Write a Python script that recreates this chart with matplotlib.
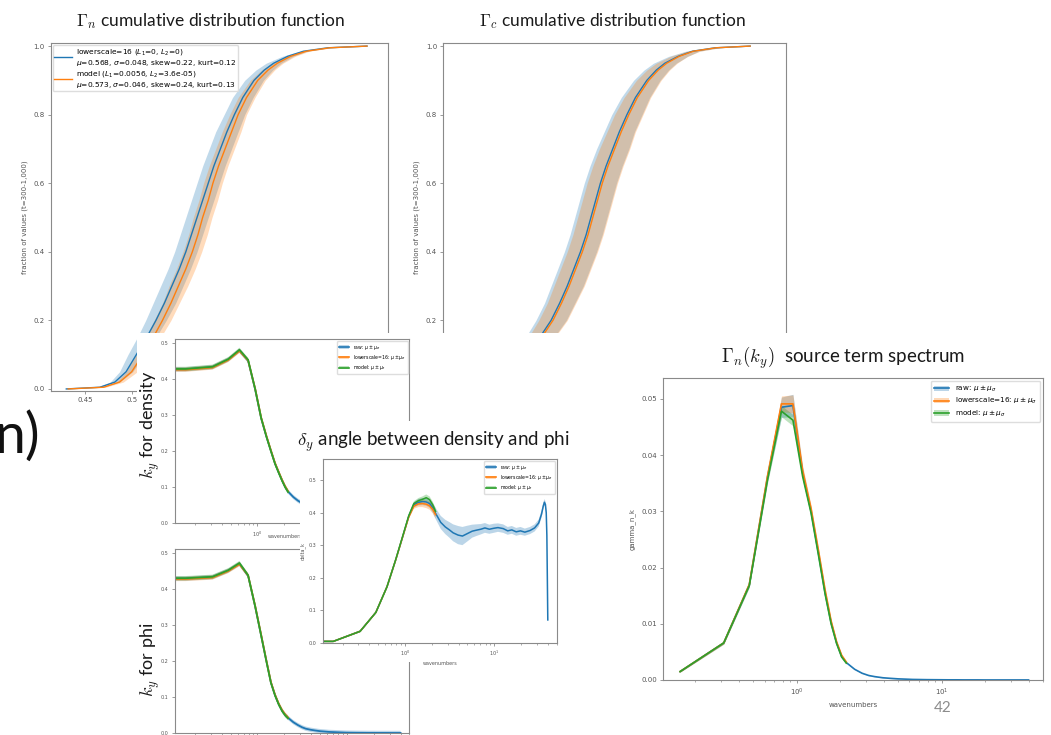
import numpy as np
import matplotlib
matplotlib.use("Agg")
import matplotlib.pyplot as plt
from matplotlib.patches import Rectangle, Patch
from matplotlib.lines import Line2D

# ---------------------------------------------------------------- data
# cumulative distributions: fraction of values and the quantile reached
cdf_frac = [0.0, 0.005, 0.02, 0.05, 0.1, 0.15, 0.2, 0.25, 0.3, 0.35, 0.4,
            0.45, 0.5, 0.55, 0.6, 0.65, 0.7, 0.75, 0.8, 0.85, 0.9, 0.93,
            0.95, 0.97, 0.985, 0.995, 1.0]
gn_lower_x = [0.430, 0.466, 0.482, 0.494, 0.505, 0.516, 0.526, 0.535, 0.543,
              0.551, 0.558, 0.564, 0.570, 0.576, 0.582, 0.588, 0.595, 0.602,
              0.610, 0.619, 0.631, 0.642, 0.652, 0.667, 0.684, 0.710, 0.752]
gn_model_x = [0.432, 0.470, 0.487, 0.500, 0.512, 0.523, 0.533, 0.542, 0.550,
              0.558, 0.565, 0.571, 0.576, 0.582, 0.587, 0.593, 0.600, 0.607,
              0.614, 0.623, 0.635, 0.646, 0.656, 0.670, 0.687, 0.712, 0.752]
gn_lower_sd = [0.0, 0.003, 0.005, 0.007, 0.009, 0.010, 0.011, 0.012, 0.012,
               0.012, 0.012, 0.012, 0.012, 0.012, 0.012, 0.012, 0.012, 0.012,
               0.011, 0.011, 0.010, 0.009, 0.008, 0.006, 0.004, 0.002, 0.0]
gn_model_sd = [0.0, 0.002, 0.004, 0.006, 0.007, 0.008, 0.009, 0.009, 0.010,
               0.010, 0.010, 0.010, 0.010, 0.010, 0.010, 0.010, 0.010, 0.010,
               0.009, 0.009, 0.008, 0.007, 0.006, 0.005, 0.003, 0.002, 0.0]
gc_lower_x = [0.425, 0.455, 0.474, 0.490, 0.503, 0.515, 0.527, 0.536, 0.544,
              0.551, 0.558, 0.564, 0.569, 0.574, 0.579, 0.585, 0.592, 0.599,
              0.607, 0.616, 0.628, 0.638, 0.647, 0.661, 0.676, 0.700, 0.737]
gc_model_x = [0.426, 0.457, 0.476, 0.492, 0.505, 0.517, 0.529, 0.538, 0.546,
              0.553, 0.560, 0.566, 0.571, 0.576, 0.581, 0.587, 0.594, 0.601,
              0.609, 0.618, 0.630, 0.640, 0.649, 0.662, 0.677, 0.701, 0.737]
gc_lower_sd = [0.0, 0.004, 0.008, 0.011, 0.013, 0.015, 0.016, 0.016, 0.017,
               0.017, 0.017, 0.017, 0.017, 0.017, 0.017, 0.017, 0.017, 0.016,
               0.016, 0.015, 0.014, 0.013, 0.012, 0.010, 0.007, 0.004, 0.0]
gc_model_sd = [0.0, 0.004, 0.007, 0.010, 0.012, 0.014, 0.015, 0.015, 0.016,
               0.016, 0.016, 0.016, 0.016, 0.016, 0.016, 0.016, 0.016, 0.015,
               0.015, 0.014, 0.013, 0.012, 0.011, 0.009, 0.007, 0.004, 0.0]

gn_labels = ["lowerscale=16 ($L_1$=0, $L_2$=0)\n"
             "$\\mu$=0.568, $\\sigma$=0.048, skew=0.22, kurt=0.12",
             "model ($L_1$=0.0056, $L_2$=3.6e-05)\n"
             "$\\mu$=0.573, $\\sigma$=0.046, skew=0.24, kurt=0.13"]

# spectral mode numbers, k = n * 2pi/40
k0 = 2 * np.pi / 40
modes_short = [0, 1, 2, 3, 4, 5, 6, 7, 8, 9, 10, 11, 12, 13, 14]
modes_raw = modes_short + [16, 18, 20, 22, 25, 28, 32, 36, 40, 45, 50, 56,
                           63, 70, 80, 90, 100, 112, 125, 140, 160, 180,
                           200, 215, 225, 232, 238, 243, 247, 250, 253]

# k_y for density
dens_raw = [0.425, 0.426, 0.432, 0.453, 0.478, 0.450, 0.370, 0.290, 0.240,
            0.200, 0.165, 0.140, 0.118, 0.100, 0.087, 0.072, 0.062, 0.055,
            0.049, 0.043, 0.038, 0.033, 0.029, 0.026, 0.023, 0.020, 0.018,
            0.016, 0.014, 0.012, 0.011, 0.010, 0.009, 0.008, 0.007, 0.006,
            0.006, 0.005, 0.005, 0.005, 0.004, 0.004, 0.004, 0.004, 0.004,
            0.004]
dens_lower = [0.424, 0.425, 0.431, 0.452, 0.477, 0.451, 0.372, 0.292, 0.242,
              0.201, 0.166, 0.141, 0.119, 0.101, 0.088]
dens_model = [0.426, 0.427, 0.433, 0.454, 0.480, 0.452, 0.371, 0.291, 0.240,
              0.199, 0.164, 0.139, 0.117, 0.099, 0.086]

# k_y for phi
phi_raw = [0.428, 0.428, 0.432, 0.450, 0.469, 0.436, 0.350, 0.270, 0.200,
           0.140, 0.105, 0.080, 0.062, 0.050, 0.042, 0.030, 0.022, 0.016,
           0.012, 0.009, 0.007, 0.005, 0.004, 0.003, 0.0025, 0.002, 0.0015,
           0.001, 0.0008, 0.0006, 0.0005, 0.0004, 0.0003, 0.0003, 0.0002,
           0.0002, 0.0002, 0.0001, 0.0001, 0.0001, 0.0001, 0.0001, 0.0001,
           0.0001, 0.0001, 0.0001]
phi_lower = [0.427, 0.427, 0.431, 0.449, 0.468, 0.437, 0.352, 0.272, 0.201,
             0.141, 0.106, 0.081, 0.063, 0.051, 0.043]
phi_model = [0.429, 0.429, 0.433, 0.451, 0.471, 0.437, 0.351, 0.270, 0.199,
             0.139, 0.104, 0.079, 0.061, 0.049, 0.041]

# delta_y, phase angle between density and phi
dy_raw = [0.000, 0.004, 0.035, 0.093, 0.172, 0.254, 0.326, 0.388, 0.424,
          0.432, 0.434, 0.433, 0.428, 0.415, 0.398, 0.370, 0.356, 0.347,
          0.338, 0.331, 0.328, 0.336, 0.343, 0.346, 0.349, 0.353, 0.349,
          0.352, 0.354, 0.351, 0.344, 0.347, 0.341, 0.344, 0.340, 0.345,
          0.353, 0.368, 0.395, 0.420, 0.432, 0.425, 0.400, 0.330, 0.200,
          0.070]
dy_raw_sd = [0.000, 0.002, 0.003, 0.004, 0.004, 0.004, 0.005, 0.006, 0.008,
             0.010, 0.011, 0.012, 0.013, 0.015, 0.017, 0.020, 0.022, 0.024,
             0.026, 0.028, 0.028, 0.024, 0.020, 0.018, 0.016, 0.015, 0.014,
             0.014, 0.013, 0.013, 0.012, 0.012, 0.012, 0.012, 0.011, 0.011,
             0.011, 0.011, 0.011, 0.010, 0.010, 0.010, 0.010, 0.008, 0.006,
             0.004]
dy_lower = [0.000, 0.004, 0.035, 0.093, 0.172, 0.254, 0.326, 0.386, 0.420,
            0.427, 0.428, 0.426, 0.421, 0.410, 0.394]
dy_lower_sd = [0.000, 0.002, 0.003, 0.003, 0.004, 0.004, 0.005, 0.006, 0.008,
               0.010, 0.011, 0.012, 0.012, 0.012, 0.012]
dy_model = [0.000, 0.004, 0.035, 0.093, 0.172, 0.255, 0.328, 0.390, 0.428,
            0.437, 0.441, 0.446, 0.440, 0.424, 0.404]
dy_model_sd = [0.000, 0.002, 0.003, 0.003, 0.004, 0.004, 0.005, 0.006, 0.007,
               0.008, 0.009, 0.010, 0.010, 0.010, 0.010]

# Gamma_n(k_y) source term spectrum (mode 0 carries no flux)
gk_raw = [0.0015, 0.0066, 0.0169, 0.0360, 0.0485, 0.0488, 0.0368, 0.0300,
          0.0225, 0.0155, 0.0102, 0.0066, 0.0042, 0.0031, 0.0019, 0.0012,
          0.0008, 0.0006, 0.0004, 0.0003, 0.0002, 0.00015, 0.0001, 0.00008,
          0.00006, 0.00005, 0.00004, 0.00003, 0.00003, 0.00002, 0.00002,
          0.00002, 0.00001, 0.00001, 0.00001, 0.00001, 0.00001, 0.00001,
          0.00001, 0.00001, 0.00001, 0.00001, 0.00001, 0.00001, 0.00001]
gk_raw_sd = [0.0001, 0.0002, 0.0004, 0.0008, 0.0018, 0.0020, 0.0010, 0.0007,
             0.0005, 0.0004, 0.0003, 0.0002, 0.0002, 0.0001] + [0.00005] * 31
gk_lower = [0.0015, 0.0066, 0.0170, 0.0362, 0.0491, 0.0491, 0.0372, 0.0305,
            0.0230, 0.0160, 0.0105, 0.0068, 0.0044, 0.0032]
gk_lower_sd = [0.0001, 0.0002, 0.0004, 0.0008, 0.0014, 0.0016, 0.0009,
               0.0006, 0.0005, 0.0004, 0.0003, 0.0002, 0.0002, 0.0001]
gk_model = [0.0015, 0.0066, 0.0168, 0.0355, 0.0478, 0.0462, 0.0362, 0.0297,
            0.0222, 0.0153, 0.0100, 0.0065, 0.0041, 0.0030]
gk_model_sd = [0.0001, 0.0002, 0.0003, 0.0006, 0.0010, 0.0010, 0.0007,
               0.0005, 0.0004, 0.0003, 0.0002, 0.0002, 0.0001, 0.0001]

spec_labels = ["raw: $\\mu \\pm \\mu_\\sigma$",
               "lowerscale=16: $\\mu \\pm \\mu_\\sigma$",
               "model: $\\mu \\pm \\mu_\\sigma$"]

# ---------------------------------------------------------------- style
BLUE, ORANGE, GREEN = "#1f77b4", "#ff7f0e", "#2ca02c"
plt.rcParams.update({
    "axes.linewidth": 0.8,
    "axes.edgecolor": "#8a8a8a",
    "xtick.color": "#8a8a8a",
    "ytick.color": "#8a8a8a",
    "xtick.labelcolor": "#555555",
    "ytick.labelcolor": "#555555",
    "xtick.major.size": 2.5,
    "ytick.major.size": 2.5,
    "xtick.minor.size": 1.5,
    "ytick.minor.size": 1.5,
    "xtick.major.width": 0.6,
    "ytick.major.width": 0.6,
    "xtick.minor.width": 0.5,
    "ytick.minor.width": 0.5,
    "xtick.major.pad": 2,
    "ytick.major.pad": 2,
    "legend.edgecolor": "#dddddd",
})

W, H = 1051, 735
fig = plt.figure(figsize=(W / 100, H / 100), dpi=100)


def box(left, top, right, bottom):
    return [left / W, 1 - bottom / H, (right - left) / W, (bottom - top) / H]


def white_box(left, top, right, bottom, z):
    fig.add_artist(Rectangle((left / W, 1 - bottom / H), (right - left) / W,
                             (bottom - top) / H, transform=fig.transFigure,
                             facecolor="white", edgecolor="none", zorder=z))


SLIDE_FONT = ["Lato", "DejaVu Sans"]


def slide_text(x, y, s, size, z, **kw):
    fig.text(x / W, 1 - y / H, s, fontsize=size, family=SLIDE_FONT,
             math_fontfamily="cm", ha="center", va="center", zorder=z,
             color="#1a1a1a", **kw)


# ---------------------------------------------------------------- CDF panels
def cdf_panel(rect, lower_x, lower_sd, model_x, model_sd, legend):
    ax = fig.add_axes(rect, zorder=0)
    lx, ls = np.array(lower_x), np.array(lower_sd)
    mx, ms = np.array(model_x), np.array(model_sd)
    ax.fill_betweenx(cdf_frac, lx - ls, lx + ls, color=BLUE, alpha=0.28, lw=0)
    ax.fill_betweenx(cdf_frac, mx - ms, mx + ms, color=ORANGE, alpha=0.28, lw=0)
    l1, = ax.plot(lower_x, cdf_frac, color=BLUE, lw=1.0)
    l2, = ax.plot(model_x, cdf_frac, color=ORANGE, lw=1.0)
    ax.set_xlim(0.4133, 0.7745)
    ax.set_ylim(-0.006, 1.009)
    ax.set_xticks([0.45, 0.50, 0.55, 0.60, 0.65, 0.70, 0.75])
    ax.set_xticklabels(["0.45", "0.5", "0.55", "0.6", "0.65", "0.7", "0.75"])
    ax.set_yticks([0.0, 0.2, 0.4, 0.6, 0.8, 1.0])
    ax.tick_params(labelsize=5)
    ax.set_ylabel("fraction of values (t=300-1,000)", fontsize=5,
                  color="#555555", labelpad=4)
    if legend:
        ax.legend([l1, l2], gn_labels, loc="upper left", fontsize=5.4,
                  framealpha=1, borderaxespad=0.3, borderpad=0.2,
                  handlelength=2.3, labelspacing=0.05, handletextpad=0.6)
    return ax


cdf_panel(box(50.7, 43, 388, 391), gn_lower_x, gn_lower_sd,
          gn_model_x, gn_model_sd, True)
cdf_panel(box(443.3, 43, 785.7, 391), gc_lower_x, gc_lower_sd,
          gc_model_x, gc_model_sd, False)
slide_text(210, 21, "$\\Gamma_n$ cumulative distribution function", 12.5, 1)
slide_text(612, 21, "$\\Gamma_c$ cumulative distribution function", 12.5, 1)

# lower half of the slide sits on top of the CDF panels
white_box(137, 333, W, H, 1)

K_LIM = (0.1197, 50.0)
k_short = k0 * np.array(modes_short)
k_raw = k0 * np.array(modes_raw)


def spectrum_axes(rect, z):
    ax = fig.add_axes(rect, zorder=z)
    ax.set_xscale("log")
    ax.set_xlim(*K_LIM)
    return ax


def band_legend(ax, size):
    handles = [(Patch(facecolor=c, alpha=0.3, lw=0), Line2D([], [], color=c, lw=1.2))
               for c in (BLUE, ORANGE, GREEN)]
    ax.legend(handles, spec_labels, loc="upper right", fontsize=size,
              framealpha=1, borderaxespad=0.4, handlelength=2.2,
              labelspacing=0.3)


# k_y for density
axd = spectrum_axes(box(175, 339, 409.5, 523), 2)
for kk, vals, c in ((k_raw, dens_raw, BLUE), (k_short, dens_lower, ORANGE),
                    (k_short, dens_model, GREEN)):
    v = np.array(vals)
    axd.fill_between(kk, v - 0.006, v + 0.006, color=c, alpha=0.3, lw=0)
    axd.plot(kk, v, color=c, lw=1.3)
axd.set_ylim(0, 0.51)
axd.set_yticks([0, 0.1, 0.2, 0.3, 0.4, 0.5])
axd.tick_params(labelsize=3.5)
axd.set_xlabel("wavenumbers", fontsize=3.5, color="#555555", labelpad=1)
axd.xaxis.set_label_coords(0.47, -0.06)
band_legend(axd, 3.3)
slide_text(150, 425, "$k_y$ for density", 13, 2.5, rotation=90)

# k_y for phi (its wavenumber labels fall below the slide edge)
axp = spectrum_axes(box(175, 549, 409.5, 733), 2)
for kk, vals, c in ((k_raw, phi_raw, BLUE), (k_short, phi_lower, ORANGE),
                    (k_short, phi_model, GREEN)):
    v = np.array(vals)
    axp.fill_between(kk, v - 0.006, v + 0.006, color=c, alpha=0.3, lw=0)
    axp.plot(kk, v, color=c, lw=1.3)
axp.set_ylim(0, 0.51)
axp.set_yticks([0, 0.1, 0.2, 0.3, 0.4, 0.5])
axp.tick_params(labelsize=3.5)
axp.tick_params(axis="x", which="both", labelbottom=False)
slide_text(150, 660, "$k_y$ for phi", 13, 2.5, rotation=90)

# delta_y panel laid over both k_y panels
white_box(300, 421, 600, 662, 3)
axa = spectrum_axes(box(322.7, 459, 556.7, 642.7), 4)
for kk, vals, sd, c in ((k_raw, dy_raw, dy_raw_sd, BLUE),
                        (k_short, dy_lower, dy_lower_sd, ORANGE),
                        (k_short, dy_model, dy_model_sd, GREEN)):
    v, s = np.array(vals), np.array(sd)
    axa.fill_between(kk, v - s, v + s, color=c, alpha=0.3, lw=0)
    axa.plot(kk, v, color=c, lw=1.1)
axa.set_ylim(0, 0.565)
axa.set_yticks([0, 0.1, 0.2, 0.3, 0.4, 0.5])
axa.tick_params(labelsize=3.5)
axa.set_xlabel("wavenumbers", fontsize=3.5, color="#555555", labelpad=2)
axa.set_ylabel("delta_k", fontsize=3.5, color="#555555", labelpad=2)
band_legend(axa, 3.3)
slide_text(433, 442, "$\\delta_y$ angle between density and phi", 13.5, 4.5)

# Gamma_n(k_y) source term spectrum
axg = spectrum_axes(box(663, 378, 1043, 680), 2)
for kk, vals, sd, c in ((k_raw[1:], gk_raw, gk_raw_sd, BLUE),
                        (k_short[1:], gk_lower, gk_lower_sd, ORANGE),
                        (k_short[1:], gk_model, gk_model_sd, GREEN)):
    v, s = np.array(vals), np.array(sd)
    axg.fill_between(kk, v - s, v + s, color=c, alpha=0.3, lw=0)
    axg.plot(kk, v, color=c, lw=1.2)
axg.set_ylim(0, 0.0537)
axg.set_yticks([0, 0.01, 0.02, 0.03, 0.04, 0.05])
axg.set_yticklabels(["0.00", "0.01", "0.02", "0.03", "0.04", "0.05"])
axg.tick_params(labelsize=5)
axg.set_xlabel("wavenumbers", fontsize=5, color="#555555", labelpad=3)
axg.set_ylabel("gamma_n_k", fontsize=5, color="#555555", labelpad=4)
band_legend(axg, 5.2)
slide_text(843, 358, "$\\Gamma_n(k_y)$  source term spectrum", 13.5, 2.5)

# remains of the slide heading and the page number
fig.text(40 / W, 1 - 437 / H, "n)", fontsize=40, family=SLIDE_FONT,
         ha="right", va="center", color="#111111", zorder=2.5)
fig.text(943 / W, 1 - 708 / H, "42", fontsize=11, family=SLIDE_FONT,
         ha="center", va="center", color="#8c8c8c", zorder=2.5)

fig.savefig("out.png", dpi=100, facecolor="white")
